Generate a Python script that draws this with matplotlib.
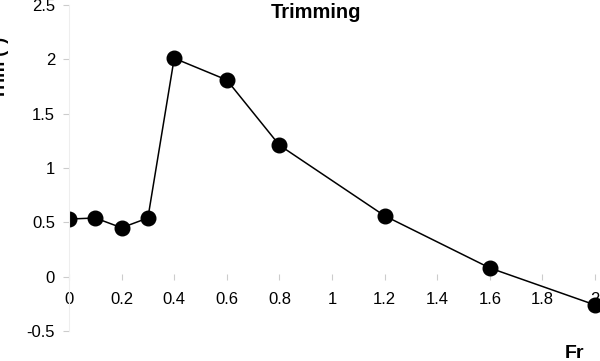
import matplotlib
matplotlib.use("Agg")
import matplotlib.pyplot as plt

plt.rcParams["font.family"] = ["Liberation Sans", "DejaVu Sans"]

# Froude number vs trim angle
fr = [0.0, 0.1, 0.2, 0.3, 0.4, 0.6, 0.8, 1.2, 1.6, 2.0]
trim = [0.53, 0.54, 0.45, 0.54, 2.01, 1.81, 1.21, 0.56, 0.08, -0.26]

x_ticks = [0, 0.2, 0.4, 0.6, 0.8, 1, 1.2, 1.4, 1.6, 1.8, 2]
x_labels = ["0", "0.2", "0.4", "0.6", "0.8", "1", "1.2", "1.4", "1.6", "1.8", "2"]
y_ticks = [-0.5, 0, 0.5, 1, 1.5, 2, 2.5]
y_labels = ["-0.5", "0", "0.5", "1", "1.5", "2", "2.5"]

fig = plt.figure(figsize=(6.0, 3.61), dpi=100)
ax = fig.add_axes([69 / 600, 1 - 331 / 361, (600 - 69) / 600, 326 / 361])

line, = ax.plot(fr, trim, color="black", lw=1.1, marker="o", ms=10.5)
line.set_clip_path(ax.patch)

ax.set_xlim(0, 531 / 263)
ax.set_ylim(-0.5, 2.5)
ax.set_xticks(x_ticks, x_labels)
ax.set_yticks(y_ticks, y_labels)

for side in ("top", "right"):
    ax.spines[side].set_visible(False)
ax.spines["bottom"].set_position(("data", 0))
ax.spines["bottom"].set_visible(False)
ax.spines["left"].set_color("#eeeeee")

ax.tick_params(axis="x", direction="inout", length=4, color="#cccccc",
               labelsize=12, pad=9)
ax.tick_params(axis="y", direction="out", length=4, color="#cccccc",
               labelsize=12, pad=6)

fig.text(316 / 600, 1 - 13 / 361, "Trimming", ha="center", va="center",
         fontsize=14.5, fontweight="bold")
fig.text(574 / 600, 1 - 353 / 361, "Fr", ha="center", va="center",
         fontsize=14, fontweight="bold")
fig.text(1 / 600, 1 - 68 / 361, "Trim (°)", ha="center", va="center",
         rotation=90, fontsize=13, fontweight="bold")

fig.savefig("out.png", dpi=100)
